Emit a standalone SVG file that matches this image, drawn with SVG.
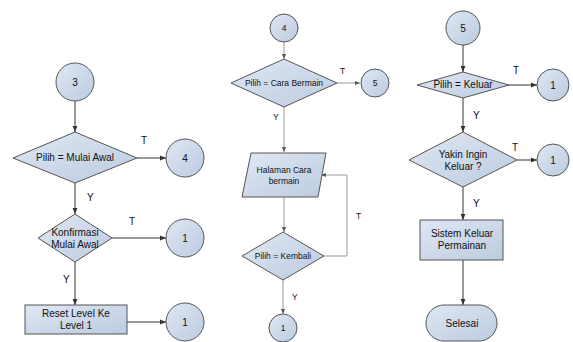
<svg xmlns="http://www.w3.org/2000/svg" width="573" height="342" viewBox="0 0 573 342">
<defs>
<linearGradient id="g" x1="0" y1="0" x2="1" y2="1">
<stop offset="0" stop-color="#dfe7f3"/>
<stop offset="1" stop-color="#bccbe0"/>
</linearGradient>
<marker id="a" viewBox="0 0 10 10" refX="10" refY="5" markerWidth="6" markerHeight="6" orient="auto" markerUnits="userSpaceOnUse">
<path d="M0,1 L10,5 L0,9 z" fill="#333"/>
</marker>
<marker id="b" viewBox="0 0 10 10" refX="10" refY="5" markerWidth="5" markerHeight="5" orient="auto" markerUnits="userSpaceOnUse">
<path d="M0,1 L10,5 L0,9 z" fill="#555"/>
</marker>
</defs>
<style>
.s{fill:url(#g);stroke:#555;stroke-width:1}
.t{font-family:"Liberation Sans",Arial,sans-serif;font-size:10px;fill:#111;text-anchor:middle}
.c{fill:none;stroke:#333;stroke-width:1}
.l{fill:none;stroke:#999;stroke-width:1}
.lb{font-family:"Liberation Sans",Arial,sans-serif;font-size:10px;fill:#111}
.m{font-size:8.5px}
</style>
<rect width="573" height="342" fill="#fff"/>
<g id="connectors">
<line class="c" x1="75" y1="101" x2="75" y2="132" marker-end="url(#a)"/>
<line class="c" x1="137" y1="158" x2="166" y2="158" marker-end="url(#a)"/>
<line class="c" x1="75" y1="183" x2="75" y2="214" marker-end="url(#a)"/>
<line class="c" x1="112" y1="238" x2="166" y2="238" marker-end="url(#a)"/>
<line class="c" x1="75" y1="262" x2="75" y2="305" marker-end="url(#a)"/>
<line class="c" x1="127" y1="322" x2="166" y2="322" marker-end="url(#a)"/>
<line class="l" x1="284" y1="42" x2="284" y2="59" marker-end="url(#b)"/>
<line class="l" x1="337" y1="83" x2="360" y2="83" marker-end="url(#b)"/>
<line class="l" x1="284" y1="107" x2="284" y2="152" marker-end="url(#b)"/>
<line class="l" x1="284" y1="197" x2="284" y2="232" marker-end="url(#b)"/>
<polyline class="l" points="324,256 347,256 347,175 321,175" marker-end="url(#b)"/>
<line class="l" x1="283" y1="280" x2="283" y2="314" marker-end="url(#b)"/>
<line class="c" x1="463" y1="45" x2="463" y2="72" marker-end="url(#a)"/>
<line class="c" x1="509" y1="85" x2="537" y2="85" marker-end="url(#a)"/>
<line class="c" x1="463" y1="98" x2="463" y2="132" marker-end="url(#a)"/>
<line class="c" x1="517" y1="160" x2="537" y2="160" marker-end="url(#a)"/>
<line class="c" x1="463" y1="187" x2="463" y2="220" marker-end="url(#a)"/>
<line class="c" x1="463" y1="260" x2="463" y2="305" marker-end="url(#a)"/>
<text class="lb" x="141" y="144">T</text>
<text class="lb" x="87" y="201">Y</text>
<text class="lb" x="129" y="225">T</text>
<text class="lb" x="63" y="283">Y</text>
<text class="lb m" x="340" y="74">T</text>
<text class="lb m" x="273" y="120">Y</text>
<text class="lb m" x="356" y="219">T</text>
<text class="lb m" x="292" y="300">Y</text>
<text class="lb" x="513" y="74">T</text>
<text class="lb" x="473" y="119">Y</text>
<text class="lb" x="512" y="151">T</text>
<text class="lb" x="473" y="207">Y</text>
</g>
<g id="c3"><circle class="s" cx="75" cy="82" r="19"/><text class="t" x="75" y="86">3</text></g>
<g id="d1"><polygon class="s" points="75,132 137,158 75,183 13,158"/><text class="t" x="75" y="161">Pilih = Mulai Awal</text></g>
<g id="c4a"><circle class="s" cx="185" cy="158" r="19"/><text class="t" x="185" y="162">4</text></g>
<g id="d2"><polygon class="s" points="75,214 112,238 75,262 38,238"/><text class="t" x="75" y="236">Konfirmasi</text><text class="t" x="75" y="248">Mulai Awal</text></g>
<g id="c1a"><circle class="s" cx="185" cy="238" r="19"/><text class="t" x="185" y="242">1</text></g>
<g id="r1"><rect class="s" x="25" y="305" width="102" height="29"/><text class="t" x="76" y="317">Reset Level Ke</text><text class="t" x="76" y="329">Level 1</text></g>
<g id="c1b"><circle class="s" cx="185" cy="322" r="19"/><text class="t" x="185" y="326">1</text></g>
<g id="c4b"><circle class="s" cx="284" cy="28" r="14"/><text class="t m" x="284" y="31">4</text></g>
<g id="d3"><polygon class="s" points="284,59 337,83 284,107 231,83"/><text class="t m" x="284" y="86">Pilih = Cara Bermain</text></g>
<g id="c5a"><circle class="s" cx="375" cy="83" r="14"/><text class="t m" x="375" y="86">5</text></g>
<g id="p1"><polygon class="s" points="251,153 326,153 318,197 242,197"/><text class="t m" x="284" y="173">Halaman Cara</text><text class="t m" x="284" y="184">bermain</text></g>
<g id="d4"><polygon class="s" points="283,232 324,256 283,280 242,256"/><text class="t m" x="283" y="259">Pilih = Kembali</text></g>
<g id="c1c"><circle class="s" cx="283" cy="328" r="14"/><text class="t m" x="283" y="331">1</text></g>
<g id="c5b"><circle class="s" cx="463" cy="28" r="17"/><text class="t" x="463" y="32">5</text></g>
<g id="d5"><polygon class="s" points="463,72 509,85 463,98 417,85"/><text class="t" x="463" y="88">Pilih = Keluar</text></g>
<g id="c1d"><circle class="s" cx="553" cy="85" r="16"/><text class="t" x="553" y="89">1</text></g>
<g id="d6"><polygon class="s" points="463,132 517,160 463,187 409,160"/><text class="t" x="463" y="158">Yakin Ingin</text><text class="t" x="463" y="170">Keluar ?</text></g>
<g id="c1e"><circle class="s" cx="553" cy="160" r="16"/><text class="t" x="553" y="164">1</text></g>
<g id="r2"><rect class="s" x="420" y="220" width="83" height="40"/><text class="t" x="462" y="237">Sistem Keluar</text><text class="t" x="462" y="249">Permainan</text></g>
<g id="e1"><rect class="s" x="426" y="305" width="71" height="36" rx="18"/><text class="t" x="462" y="327">Selesai</text></g>
</svg>
